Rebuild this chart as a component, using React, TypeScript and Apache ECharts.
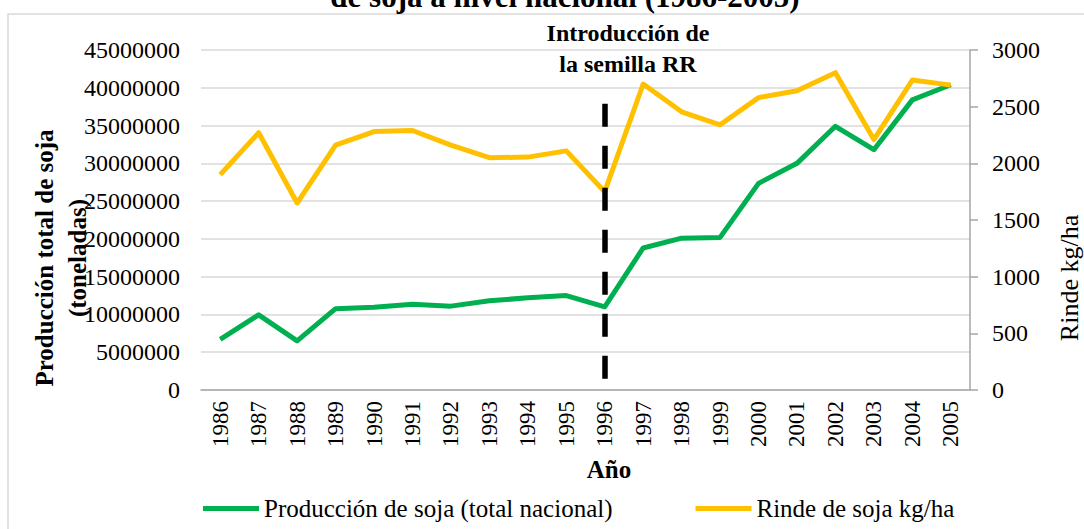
import React, { useEffect, useRef } from "react";
import * as echarts from "echarts";

const years = ["1986","1987","1988","1989","1990","1991","1992","1993","1994","1995","1996","1997","1998","1999","2000","2001","2002","2003","2004","2005"];
const produccion = [6700000, 9950000, 6500000, 10760000, 10940000, 11340000, 11100000, 11800000, 12200000, 12500000, 11000000, 18800000, 20100000, 20200000, 27350000, 30000000, 34900000, 31800000, 38400000, 40400000];
const rinde = [1900, 2270, 1650, 2160, 2280, 2290, 2160, 2050, 2055, 2110, 1750, 2700, 2455, 2340, 2580, 2640, 2800, 2210, 2735, 2690];
const seriesNames = ["Producción de soja (total nacional)", "Rinde de soja kg/ha"];
const rrYear = "1996";
const rrSpan = [37900000, 1100000];

const FONT = "Liberation Serif";

export default function App() {
  const ref = useRef<HTMLDivElement>(null);
  useEffect(() => {
    if (!ref.current) return;
    const chart = echarts.init(ref.current, null, { renderer: "svg" });
    const plain = (v: number) => String(v);
    chart.setOption({
      animation: false,
      backgroundColor: "#fff",
      textStyle: { fontFamily: FONT, color: "#000" },
      grid: { left: 201, right: 114, top: 50, bottom: 139 },
      legend: {
        left: 198,
        top: 491,
        icon: "rect",
        itemWidth: 56,
        itemHeight: 5,
        itemGap: 83,
        textStyle: { fontFamily: FONT, fontSize: 25, color: "#000" },
        data: seriesNames,
      },
      xAxis: {
        type: "category",
        data: years,
        boundaryGap: true,
        axisLine: { lineStyle: { color: "#a6a6a6", width: 1.5 } },
        axisTick: { show: false },
        axisLabel: { rotate: 90, margin: 11, fontSize: 23, color: "#000", fontFamily: FONT, interval: 0 },
      },
      yAxis: [
        {
          type: "value",
          min: 0,
          max: 45000000,
          interval: 5000000,
          axisLine: { show: false },
          axisTick: { show: false },
          axisLabel: { margin: 21, fontSize: 24, color: "#000", fontFamily: FONT, formatter: plain },
          splitLine: { lineStyle: { color: "#d9d9d9", width: 1.5 } },
        },
        {
          type: "value",
          min: 0,
          max: 3000,
          interval: 500,
          position: "right",
          axisLine: { show: true, lineStyle: { color: "#a6a6a6", width: 1.5 } },
          axisTick: { show: true, length: 8, lineStyle: { color: "#a6a6a6", width: 1.5 } },
          axisLabel: { margin: 22, fontSize: 24, color: "#000", fontFamily: FONT, formatter: plain },
          splitLine: { show: false },
        },
      ],
      series: [
        {
          name: seriesNames[0],
          type: "line",
          yAxisIndex: 0,
          data: produccion,
          symbol: "none",
          lineStyle: { color: "#00b050", width: 5, join: "round" },
          itemStyle: { color: "#00b050" },
          z: 3,
          markLine: {
            silent: true,
            symbol: ["none", "none"],
            label: { show: false },
            lineStyle: { color: "#000", width: 5.5, type: [23, 19] },
            data: [[{ coord: [rrYear, rrSpan[0]] }, { coord: [rrYear, rrSpan[1]] }]],
          },
        },
        {
          name: seriesNames[1],
          type: "line",
          yAxisIndex: 1,
          data: rinde,
          symbol: "none",
          lineStyle: { color: "#ffc000", width: 5, join: "round" },
          itemStyle: { color: "#ffc000" },
          z: 4,
        },
      ],
      graphic: [
        {
          type: "rect",
          shape: { x: 8, y: 14, width: 1300, height: 700 },
          style: { fill: "none", stroke: "#d9d9d9", lineWidth: 1.5 },
          z: -10,
        },
        {
          type: "text",
          x: 565,
          y: 12,
          style: {
            text: "de soja a nivel nacional (1986-2005)",
            font: `bold 31px ${FONT}`,
            fill: "#000",
            textAlign: "center",
            textVerticalAlign: "bottom",
          },
        },
        {
          type: "text",
          x: 628,
          y: 48,
          style: {
            text: "Introducción de\nla semilla RR",
            font: `bold 24px ${FONT}`,
            lineHeight: 31,
            fill: "#000",
            textAlign: "center",
            textVerticalAlign: "middle",
          },
        },
        {
          type: "text",
          x: 61,
          y: 258,
          rotation: Math.PI / 2,
          style: {
            text: "Producción total de soja\n(toneladas)",
            font: `bold 25px ${FONT}`,
            lineHeight: 33,
            fill: "#000",
            textAlign: "center",
            textVerticalAlign: "middle",
          },
        },
        {
          type: "text",
          x: 1069,
          y: 278,
          rotation: Math.PI / 2,
          style: {
            text: "Rinde kg/ha",
            font: `26px ${FONT}`,
            fill: "#000",
            textAlign: "center",
            textVerticalAlign: "middle",
          },
        },
        {
          type: "text",
          x: 609,
          y: 469,
          style: {
            text: "Año",
            font: `bold 25px ${FONT}`,
            fill: "#000",
            textAlign: "center",
            textVerticalAlign: "middle",
          },
        },
      ],
    });
    return () => chart.dispose();
  }, []);
  return <div ref={ref} style={{ position: "fixed", left: 0, top: 0, width: 1084, height: 529 }} />;
}
